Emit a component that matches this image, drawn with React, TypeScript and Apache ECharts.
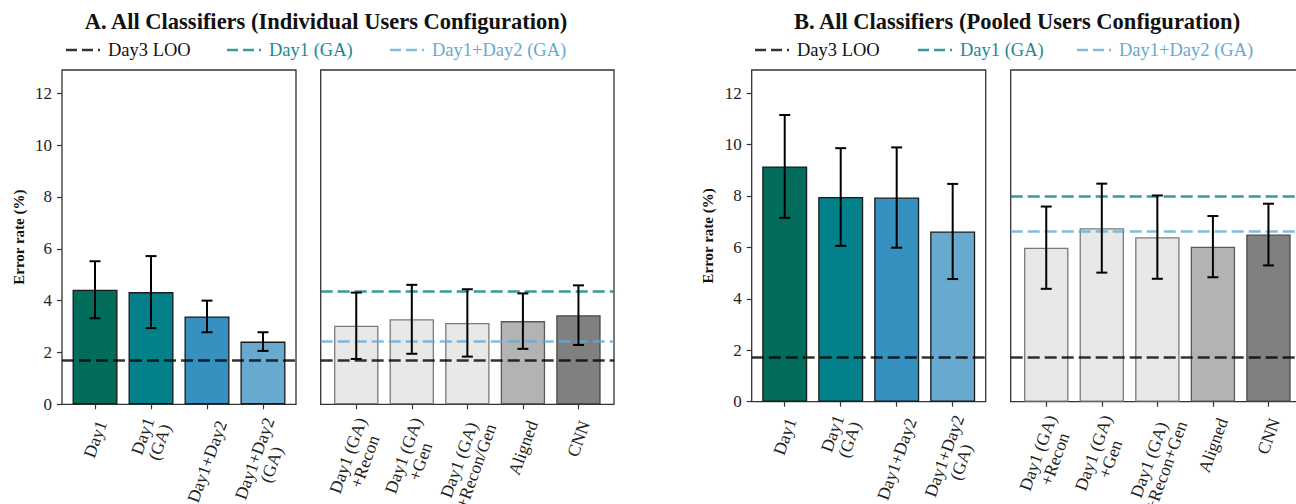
import React, { useEffect, useRef } from "react";
import * as echarts from "echarts";

// ---------- data ----------
const leftCategories = ["Day1", "Day1\n(GA)", "Day1+Day2", "Day1+Day2\n(GA)"];
const rightCategoriesA = ["Day1 (GA)\n+Recon", "Day1 (GA)\n+Gen", "Day1 (GA)\n+Recon/Gen", "Aligned", "CNN"];
const rightCategoriesB = ["Day1 (GA)\n+Recon", "Day1 (GA)\n+Gen", "Day1 (GA)\n+Recon+Gen", "Aligned", "CNN"];

const aLeftMean = [4.42, 4.33, 3.39, 2.42];
const aLeftErr = [1.1, 1.39, 0.61, 0.36];
const aRightMean = [3.03, 3.28, 3.14, 3.21, 3.44];
const aRightErr = [1.28, 1.33, 1.3, 1.07, 1.15];

const bLeftMean = [9.15, 7.96, 7.94, 6.62];
const bLeftErr = [2.0, 1.9, 1.95, 1.85];
const bRightMean = [5.99, 6.75, 6.4, 6.03, 6.5];
const bRightErr = [1.6, 1.73, 1.62, 1.19, 1.2];

// reference lines: Day3 LOO, Day1 (GA), Day1+Day2 (GA)
const refNames = ["Day3 LOO", "Day1 (GA)", "Day1+Day2 (GA)"];
const aRefs = [1.7, 4.35, 2.44];
const bRefs = [1.72, 7.98, 6.62];

const yTicks = [0, 2, 4, 6, 8, 10, 12];
const titles = [
  "A. All Classifiers (Individual Users Configuration)",
  "B. All Classifiers (Pooled Users Configuration)",
];

// ---------- styles ----------
const FONT = "Liberation Serif";
const XLABEL_SIZE = 17.5;
const leftColors = ["#016c59", "#02818a", "#3690c0", "#67a9cf"];
const rightColors = ["#e8e8e8", "#e8e8e8", "#e8e8e8", "#b3b3b3", "#808080"];
const rightBorders = ["#7a7a7a", "#7a7a7a", "#7a7a7a", "#5a5a5a", "#4a4a4a"];
const refColors = ["rgba(0,0,0,0.8)", "rgba(2,129,138,0.8)", "rgba(103,169,207,0.8)"];
const refTextColors = ["#111111", "#1a8a90", "#67a9cf"];

function measureLongestLine(text: string, font: string): number {
  const ctx = document.createElement("canvas").getContext("2d");
  if (!ctx) return text.length * 8;
  ctx.font = font;
  return Math.max(...text.split("\n").map((s) => ctx.measureText(s).width));
}

export default function App() {
  const ref = useRef<HTMLDivElement>(null);

  useEffect(() => {
    document.body.style.margin = "0";
    if (!ref.current) return;
    const chart = echarts.init(ref.current, undefined, { renderer: "svg" });

    const gridBoxes = [
      { left: 62, top: 70, width: 234, height: 334.3 },
      { left: 320.7, top: 70, width: 293.3, height: 334.3 },
      { left: 751.7, top: 70, width: 234, height: 331.7 },
      { left: 1010.7, top: 70, width: 293.3, height: 331.7 },
    ];
    const grids = gridBoxes.map((g) => ({
      ...g,
      show: true,
      containLabel: false,
      outerBoundsMode: "none",
      borderColor: "#333",
      borderWidth: 1.3,
      backgroundColor: "transparent",
    }));

    const catsPer = [leftCategories, rightCategoriesA, leftCategories, rightCategoriesB];
    const meansPer = [aLeftMean, aRightMean, bLeftMean, bRightMean];
    const errsPer = [aLeftErr, aRightErr, bLeftErr, bRightErr];
    const refsPer = [aRefs, aRefs, bRefs, bRefs];
    const labelFont = XLABEL_SIZE + "px " + FONT;

    const xAxes = catsPer.map((cats, i) => {
      const n = cats.length;
      const margin = 0.05 * (n - 1 + 0.8);
      const min = -0.4 - margin;
      const max = n - 1 + 0.4 + margin;
      const pxPerUnit = gridBoxes[i].width / (max - min);
      const idx = cats.map((_, k) => k);
      // centre each rotated label's bounding box under its tick (matplotlib style)
      const labelPos = cats.map((c, k) => k + (0.171 * measureLongestLine(c, labelFont)) / pxPerUnit);
      return {
        type: "value",
        gridIndex: i,
        min,
        max,
        axisLine: { show: false, onZero: false },
        splitLine: { show: false },
        axisTick: { show: true, customValues: idx, length: 5, lineStyle: { color: "#333", width: 1.2 } },
        axisLabel: {
          customValues: labelPos,
          rotate: 70,
          margin: 17,
          hideOverlap: false,
          formatter: (v: number) => {
            const c = cats[Math.round(v)] || "";
            return c
              .split("\n")
              .map((s) => "{c|" + s + "}")
              .join("\n");
          },
          rich: {
            c: {
              align: "center",
              fontSize: XLABEL_SIZE,
              fontFamily: FONT,
              color: "#222",
              lineHeight: 18,
            },
          },
        },
      };
    });

    const yAxes = [0, 1, 2, 3].map((i) => {
      const showLabels = i === 0 || i === 2;
      return {
        type: "value",
        gridIndex: i,
        min: 0,
        max: 12.9,
        splitLine: { show: false },
        axisLine: { show: false, onZero: false },
        axisTick: { show: showLabels, customValues: yTicks, length: 5, lineStyle: { color: "#333", width: 1.2 } },
        axisLabel: {
          show: showLabels,
          customValues: yTicks,
          margin: 10,
          formatter: (v: number) => "{t|" + v + "}",
          rich: {
            t: { fontSize: 17, fontFamily: FONT, color: "#222" },
          },
        },
        name: showLabels ? "Error rate (%)" : "",
        nameLocation: "middle",
        nameGap: 36,
        nameTextStyle: { fontSize: 15, fontWeight: "bold", fontFamily: FONT, color: "#111" },
      };
    });

    const series: any[] = [];
    catsPer.forEach((_cats, i) => {
      const isLeft = i === 0 || i === 2;
      const means = meansPer[i];
      const errs = errsPer[i];
      const refs = refsPer[i];
      const refIdx = isLeft ? [0] : [0, 1, 2];
      series.push({
        type: "bar",
        xAxisIndex: i,
        yAxisIndex: i,
        barWidth: isLeft ? 45 : 44.4,
        z: 2,
        data: means.map((m, k) => ({
          value: [k, m],
          itemStyle: {
            color: isLeft ? leftColors[k] : rightColors[k],
            borderColor: isLeft ? "#1a1a1a" : rightBorders[k],
            borderWidth: 1.3,
          },
        })),
        markLine: {
          silent: true,
          symbol: "none",
          z: 3,
          label: { show: false },
          data: refIdx.map((r) => ({
            name: refNames[r],
            yAxis: refs[r],
            lineStyle: { color: refColors[r], type: [12, 5], width: 2.6 },
          })),
        },
      });
      series.push({
        type: "custom",
        xAxisIndex: i,
        yAxisIndex: i,
        z: 5,
        data: means.map((m, k) => [k, m, errs[k]]),
        encode: { x: 0, y: 1 },
        renderItem: (_p: any, api: any) => {
          const x = api.value(0);
          const m = api.value(1);
          const e = api.value(2);
          const top = api.coord([x, m + e]);
          const bot = api.coord([x, m - e]);
          const cap = 5.5;
          const st = { stroke: "#000", lineWidth: 2 };
          return {
            type: "group",
            children: [
              { type: "line", shape: { x1: top[0], y1: top[1], x2: bot[0], y2: bot[1] }, style: st },
              { type: "line", shape: { x1: top[0] - cap, y1: top[1], x2: top[0] + cap, y2: top[1] }, style: st },
              { type: "line", shape: { x1: bot[0] - cap, y1: bot[1], x2: bot[0] + cap, y2: bot[1] }, style: st },
            ],
          };
        },
      });
    });

    // titles + legends
    const graphic: any[] = [];
    const titleX = [326, 1017];
    titles.forEach((t, i) => {
      graphic.push({
        type: "text",
        x: titleX[i],
        y: 21,
        style: {
          text: t,
          fontSize: 22.5,
          fontWeight: "bold",
          fontFamily: FONT,
          fill: "#111",
          textAlign: "center",
          textVerticalAlign: "middle",
        },
      });
    });
    const legendStarts = [
      [66, 227, 390],
      [755, 918, 1077],
    ];
    legendStarts.forEach((starts) => {
      starts.forEach((sx, r) => {
        graphic.push({
          type: "line",
          shape: { x1: sx, y1: 50, x2: sx + 34, y2: 50 },
          style: { stroke: refColors[r], lineWidth: 2.6, lineDash: [11, 5] },
        });
        graphic.push({
          type: "text",
          x: sx + 42,
          y: 50,
          style: {
            text: refNames[r],
            fontSize: 18.5,
            fontFamily: FONT,
            fill: refTextColors[r],
            textAlign: "left",
            textVerticalAlign: "middle",
          },
        });
      });
    });

    chart.setOption({
      animation: false,
      backgroundColor: "#ffffff",
      grid: grids,
      xAxis: xAxes,
      yAxis: yAxes,
      series,
      graphic,
    });

    return () => chart.dispose();
  }, []);

  return <div ref={ref} style={{ width: 1296, height: 504 }} />;
}
